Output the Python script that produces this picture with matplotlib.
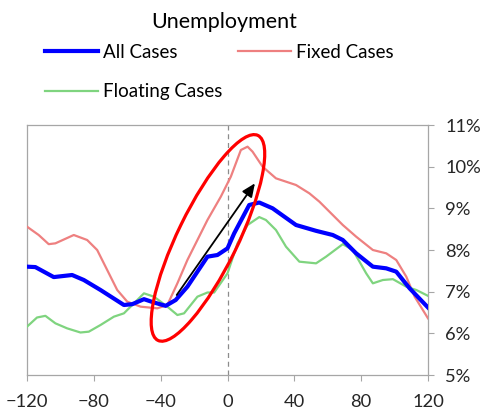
import matplotlib
matplotlib.use("Agg")
import matplotlib.pyplot as plt
import matplotlib.transforms as mtransforms
from matplotlib.patches import Ellipse
from matplotlib.ticker import FuncFormatter

plt.rcParams['font.family'] = ['Lato', 'DejaVu Sans']

# series (x = months relative to event, y = unemployment %)
all_x = [-120, -115, -104, -93, -86, -76, -62, -57, -50, -44, -37, -31, -24, -12, -6,
         0, 4, 13, 19, 27, 41, 53, 63, 69, 77, 87, 95, 101, 109, 120]
all_y = [7.60, 7.59, 7.35, 7.40, 7.28, 7.04, 6.68, 6.70, 6.82, 6.74, 6.66, 6.80, 7.12, 7.84, 7.88,
         8.04, 8.40, 9.08, 9.14, 9.00, 8.60, 8.46, 8.36, 8.24, 7.92, 7.60, 7.56, 7.48, 7.08, 6.62]

fixed_x = [-120, -113, -107, -103, -92, -84, -78, -72, -66, -60, -52, -42, -36, -30, -24, -12,
           -4, 2, 8, 12, 15, 21, 29, 41, 49, 55, 69, 77, 87, 95, 101, 107, 112, 120]
fixed_y = [8.56, 8.36, 8.14, 8.16, 8.36, 8.24, 8.00, 7.52, 7.04, 6.76, 6.64, 6.60, 6.68, 7.20, 7.76, 8.72,
           9.28, 9.76, 10.40, 10.48, 10.36, 10.00, 9.72, 9.56, 9.36, 9.16, 8.60, 8.32, 8.00, 7.92, 7.76,
           7.36, 6.88, 6.36]

float_x = [-120, -114, -109, -103, -96, -88, -83, -76, -68, -62, -56, -50, -44, -36, -30, -26, -18,
           -12, -8, 0, 6, 12, 19, 23, 29, 35, 43, 53, 59, 69, 75, 83, 87, 93, 99, 107, 113, 120]
float_y = [6.16, 6.38, 6.42, 6.24, 6.12, 6.02, 6.04, 6.20, 6.40, 6.48, 6.72, 6.96, 6.88, 6.64, 6.44,
           6.48, 6.88, 6.98, 6.98, 7.44, 8.16, 8.60, 8.79, 8.72, 8.48, 8.08, 7.72, 7.68, 7.84, 8.14,
           8.00, 7.44, 7.20, 7.28, 7.30, 7.12, 7.04, 6.90]

x_ticks = [-120, -80, -40, 0, 40, 80, 120]
y_ticks = [5, 6, 7, 8, 9, 10, 11]

fig = plt.figure(figsize=(4.86, 4.15), dpi=100)
ax = fig.add_axes([27 / 486, 1 - 375 / 415, (428 - 27) / 486, 250 / 415])

l_all, = ax.plot(all_x, all_y, color='#0000FF', lw=3.0, label='All Cases', zorder=4)
l_fix, = ax.plot(fixed_x, fixed_y, color='#EE8080', lw=1.6, label='Fixed Cases', zorder=3)
l_flt, = ax.plot(float_x, float_y, color='#7FD47F', lw=1.6, label='Floating Cases', zorder=3)

ax.axvline(0, color='#8C8C8C', lw=0.9, ls=(0, (4, 3)), zorder=1)

ax.set_xlim(-120, 120)
ax.set_ylim(5, 11)
ax.set_xticks(x_ticks)
ax.set_yticks(y_ticks)
ax.yaxis.tick_right()
ax.yaxis.set_major_formatter(FuncFormatter(lambda v, p: f"{v:.0f}%"))
ax.tick_params(axis='both', labelsize=13.2, colors='#A6A6A6', labelcolor='#262626',
               length=4.5, width=0.8)
ax.tick_params(axis='x', pad=9)
ax.tick_params(axis='y', pad=8)
for s in ax.spines.values():
    s.set_color('#A6A6A6')
    s.set_linewidth(0.9)

# red ellipse around the take-off, sized in inches and anchored at a data point
trans = fig.dpi_scale_trans + mtransforms.ScaledTranslation(-11.7, 8.29, ax.transData)
ell = Ellipse((0, 0), width=2.28, height=0.60, angle=64, transform=trans,
              fill=False, edgecolor='#FF0000', lw=2.3, zorder=6, clip_on=False)
ax.add_patch(ell)

ax.annotate('', xy=(16.4, 9.6), xytext=(-30.4, 6.92),
            arrowprops=dict(arrowstyle='-|>,head_length=0.8,head_width=0.35',
                            color='black', lw=1.3, shrinkA=0, shrinkB=0), zorder=7)

fig.text(224 / 486, 1 - 22 / 415, 'Unemployment', ha='center', va='center', fontsize=15.5)

fig.legend([l_all, l_flt, l_fix], ['All Cases', 'Floating Cases', 'Fixed Cases'],
           ncol=2, loc='upper left', bbox_to_anchor=(45 / 486, 1 - 44 / 415),
           frameon=False, fontsize=13.5, handlelength=2.83, handletextpad=0.27,
           columnspacing=0.8, labelspacing=1.2, borderpad=0, borderaxespad=0)

fig.savefig('out.png', dpi=100)
